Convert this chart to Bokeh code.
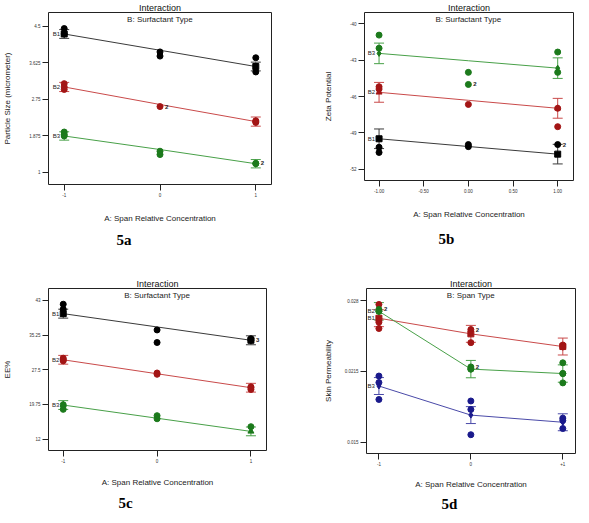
from bokeh.plotting import figure
from bokeh.models import Range1d, FixedTicker, Label, Whisker, TeeHead, ColumnDataSource, Title
from bokeh.layouts import column, row
from bokeh.embed import file_html
from bokeh.resources import INLINE
from bokeh.core.properties import value

X_LEVELS = [-1, 0, 1]
X_LABEL = "A: Span Relative Concentration"

# ---------------- Panel 5a : Particle Size ----------------
A_YTICKS = [1, 1.875, 2.75, 3.625, 4.5]
A_YTICK_LABELS = ["1", "1.875", "2.75", "3.625", "4.5"]
A_XTICKS = [-1, 0, 1]
A_XTICK_LABELS = ["-1", "0", "1"]
A_B1_MEAN = [4.32, 3.93, 3.54]
A_B2_MEAN = [3.05, 2.63, 2.22]
A_B3_MEAN = [1.875, 1.55, 1.21]
A_ERR = [0.105, 0.11, 0.10]
A_B1_PX = [-1, -1, 0, 0, 1, 1]
A_B1_PY = [4.45, 4.32, 3.89, 3.79, 3.75, 3.41]
A_B2_PX = [-1, -1, 0, 1, 1]
A_B2_PY = [3.13, 2.99, 2.58, 2.24, 2.20]
A_B3_PX = [-1, -1, 0, 0, 1]
A_B3_PY = [1.97, 1.91, 1.51, 1.43, 1.22]

# ---------------- Panel 5b : Zeta Potential ----------------
B_YTICKS = [-52, -49, -46, -43, -40]
B_YTICK_LABELS = ["-52", "-49", "-46", "-43", "-40"]
B_XTICKS = [-1, -0.5, 0, 0.5, 1]
B_XTICK_LABELS = ["-1.00", "-0.50", "0.00", "0.50", "1.00"]
B_B1_MEAN = [-49.49, -50.13, -50.76]
B_B2_MEAN = [-45.65, -46.31, -46.97]
B_B3_MEAN = [-42.43, -43.04, -43.65]
B_ERR = [0.81, 0.82, 0.85]
B_B1_PX = [-1, -1, 0, 0, 1]
B_B1_PY = [-50.19, -50.62, -49.97, -50.14, -49.97]
B_B2_PX = [-1, -1, 0, 1, 1]
B_B2_PY = [-45.19, -45.38, -46.65, -46.97, -48.49]
B_B3_PX = [-1, -1, 0, 0, 1, 1]
B_B3_PY = [-40.92, -42.0, -44.0, -45.0, -42.32, -44.0]

# ---------------- Panel 5c : EE% ----------------
C_YTICKS = [12, 19.75, 27.5, 35.25, 43]
C_YTICK_LABELS = ["12", "19.75", "27.5", "35.25", "43"]
C_XTICKS = [-1, 0, 1]
C_XTICK_LABELS = ["-1", "0", "1"]
C_B1_MEAN = [40.05, 37.08, 34.1]
C_B2_MEAN = [29.74, 26.62, 23.5]
C_B3_MEAN = [19.63, 16.68, 13.74]
C_ERR = [1.0, 0.98, 0.98]
C_B1_PX = [-1, -1, 0, 0, 1, 1]
C_B1_PY = [42.16, 41.04, 36.41, 33.6, 34.45, 34.1]
C_B2_PX = [-1, -1, 0, 0, 1, 1]
C_B2_PY = [30.1, 29.5, 26.79, 26.5, 23.7, 23.1]
C_B3_PX = [-1, -1, 0, 0, 1]
C_B3_PY = [19.7, 18.66, 17.25, 16.56, 14.79]

# ---------------- Panel 5d : Skin Permeability ----------------
D_YTICKS = [0.015, 0.0215, 0.028]
D_YTICK_LABELS = ["0.015", "0.0215", "0.028"]
D_XTICKS = [-1, 0, 1]
D_XTICK_LABELS = ["-1", "0", "+1"]
D_B1_MEAN = [0.02641, 0.02497, 0.02380]
D_B2_MEAN = [0.02705, 0.02172, 0.02131]
D_B3_MEAN = [0.02016, 0.01748, 0.01682]
D_ERR = [0.00078, 0.0008, 0.00078]
D_B1_PX = [-1, -1, -1, 0, 0, 1, 1]
D_B1_PY = [0.02768, 0.02604, 0.02546, 0.02537, 0.02416, 0.02394, 0.02376]
D_B2_PX = [-1, -1, 0, 0, 1, 1, 1]
D_B2_PY = [0.02722, 0.02705, 0.02192, 0.02172, 0.0223, 0.02131, 0.02045]
D_B3_PX = [-1, -1, -1, 0, 0, 0, 1, 1, 1]
D_B3_PY = [0.02108, 0.02048, 0.01892, 0.01878, 0.01800, 0.01567, 0.01720, 0.01699, 0.01624]

BLACK = ("#000000", "#3a3a3a")
RED = ("#a31515", "#c94a4a")
GREEN = ("#1c7a1c", "#48a048")
BLUE = ("#1a1a8c", "#4a4aa8")

FONT = "Liberation Sans"


def make_panel(fw, fh, bl, br, bt, bb, xr, yr, xticks, xlabels, yticks, ylabels,
               ylabel, subtitle, caption, cap_offset, cap_standoff, series,
               ylab_standoff, xlab_standoff, err_idx, counts):
    p = figure(frame_width=fw, frame_height=fh, x_range=Range1d(*xr), y_range=Range1d(*yr),
               output_backend="svg", toolbar_location=None,
               min_border_left=bl, min_border_right=br,
               min_border_top=bt, min_border_bottom=bb)
    p.title.text = "Interaction"
    p.title.align = "center"
    p.title.text_font = FONT
    p.title.text_font_size = "9px"
    p.title.text_font_style = "normal"
    p.title.text_color = "#111111"
    p.title.standoff = 0
    p.xgrid.visible = False
    p.ygrid.visible = False
    p.outline_line_color = "#222222"
    p.outline_line_width = 1
    p.background_fill_color = "white"
    p.border_fill_color = "white"
    for ax in (p.xaxis[0], p.yaxis[0]):
        ax.axis_line_color = None
        ax.major_tick_line_color = "#222222"
        ax.major_tick_out = 6
        ax.major_tick_in = 0
        ax.minor_tick_line_color = None
        ax.major_label_text_font = FONT
        ax.major_label_text_font_size = "4.5px"
        ax.major_label_text_color = "#333333"
        ax.major_label_standoff = 2
        ax.axis_label_text_font = FONT
        ax.axis_label_text_font_size = "8px"
        ax.axis_label_text_font_style = "normal"
        ax.axis_label_text_color = "#222222"
    p.xaxis[0].ticker = FixedTicker(ticks=xticks)
    p.xaxis[0].major_label_overrides = {t: l for t, l in zip(xticks, xlabels)}
    p.yaxis[0].ticker = FixedTicker(ticks=yticks)
    p.yaxis[0].major_label_overrides = {t: l for t, l in zip(yticks, ylabels)}
    p.xaxis[0].axis_label = X_LABEL
    p.yaxis[0].axis_label = ylabel
    p.xaxis[0].axis_label_standoff = xlab_standoff
    p.yaxis[0].axis_label_standoff = ylab_standoff

    for name, mean, err, px, py, (mcol, lcol), mean_marker in series:
        p.line(X_LEVELS, mean, line_color=lcol, line_width=1)
        ex = [X_LEVELS[i] for i in err_idx]
        em = [mean[i] for i in err_idx]
        src = ColumnDataSource(dict(x=ex, lo=[m - err for m in em], hi=[m + err for m in em]))
        p.add_layout(Whisker(source=src, base="x", lower="lo", upper="hi",
                             line_color=lcol, line_width=1,
                             lower_head=TeeHead(size=10, line_color=lcol, line_width=1),
                             upper_head=TeeHead(size=10, line_color=lcol, line_width=1)))
        p.scatter(px, py, marker="circle", size=6, fill_color=mcol, line_color=mcol)
        p.scatter(ex, em, marker=mean_marker, size=6, fill_color=mcol, line_color=mcol)
        p.text([X_LEVELS[0]], [mean[0]], text=[name], text_font=value(FONT),
               text_font_size="6px", text_color="#222222", text_align="right",
               text_baseline="middle", x_offset=-4)
    if counts:
        p.text([c[0] for c in counts], [c[1] for c in counts], text=[c[2] for c in counts],
               text_font=value(FONT), text_font_size="6px", text_font_style="bold",
               text_color="#222222", text_align="left", text_baseline="middle", x_offset=5)

    p.add_layout(Label(x=0, y=yr[1], y_offset=-7, text=subtitle, text_font=FONT,
                       text_font_size="8px", text_color="#222222", text_align="center",
                       text_baseline="middle"))
    p.add_layout(Title(text=caption, text_font="Liberation Serif", text_font_style="bold",
                       text_font_size="15px", text_color="#000000", align="left",
                       offset=cap_offset, standoff=cap_standoff), "below")
    return p


pa = make_panel(223, 172, 46, 16, 12, 66, (-1.164, 1.164), (0.712, 4.835),
                A_XTICKS, A_XTICK_LABELS, A_YTICKS, A_YTICK_LABELS,
                "Particle Size (micrometer)", "B: Surfactant Type", "5a", 68, 9,
                [("B1", A_B1_MEAN, A_ERR[0], A_B1_PX, A_B1_PY, BLACK, "square"),
                 ("B2", A_B2_MEAN, A_ERR[1], A_B2_PX, A_B2_PY, RED, "circle"),
                 ("B3", A_B3_MEAN, A_ERR[2], A_B3_PX, A_B3_PY, GREEN, "circle")],
                14, 14, [0, 2], [(0, A_B2_PY[2], "2"), (1, A_B3_PY[4], "2")])

pb = make_panel(209, 168, 77, 2, 12, 70, (-1.163, 1.177), (-52.94, -39.05),
                B_XTICKS, B_XTICK_LABELS, B_YTICKS, B_YTICK_LABELS,
                "Zeta Potential", "B: Surfactant Type", "5b", 74, 14,
                [("B1", B_B1_MEAN, B_ERR[0], B_B1_PX, B_B1_PY, BLACK, "square"),
                 ("B2", B_B2_MEAN, B_ERR[1], B_B2_PX, B_B2_PY, RED, "triangle"),
                 ("B3", B_B3_MEAN, B_ERR[2], B_B3_PX, B_B3_PY, GREEN, "diamond")],
                14, 14, [0, 2], [(0, B_B3_PY[3], "2"), (1, B_B1_PY[4], "2")])

pc = make_panel(218, 162, 44, 23, 35, 60, (-1.157, 1.166), (9.47, 45.67),
                C_XTICKS, C_XTICK_LABELS, C_YTICKS, C_YTICK_LABELS,
                "EE%", "B: Surfactant Type", "5c", 70, 6,
                [("B1", C_B1_MEAN, C_ERR[0], C_B1_PX, C_B1_PY, BLACK, "square"),
                 ("B2", C_B2_MEAN, C_ERR[1], C_B2_PX, C_B2_PY, RED, "circle"),
                 ("B3", C_B3_MEAN, C_ERR[2], C_B3_PX, C_B3_PY, GREEN, "triangle")],
                14, 12, [0, 2], [(1, C_B1_PY[5], "3")])

pd_ = make_panel(209, 165, 77, 2, 35, 57, (-1.135, 1.138), (0.01394, 0.02915),
                 D_XTICKS, D_XTICK_LABELS, D_YTICKS, D_YTICK_LABELS,
                 "Skin Permeability", "B: Span Type", "5d", 75, 4,
                 [("B1", D_B1_MEAN, D_ERR[0], D_B1_PX, D_B1_PY, RED, "square"),
                  ("B2", D_B2_MEAN, D_ERR[1], D_B2_PX, D_B2_PY, GREEN, "circle"),
                  ("B3", D_B3_MEAN, D_ERR[2], D_B3_PX, D_B3_PY, BLUE, "diamond")],
                 9, 11, [0, 1, 2],
                 [(-1, D_B2_PY[0], "2"), (0, D_B1_PY[3], "2"), (0, D_B2_PY[2], "2")])

layout = column(row(pa, pb), row(pc, pd_))
open("out.html", "w").write(file_html(layout, INLINE))
